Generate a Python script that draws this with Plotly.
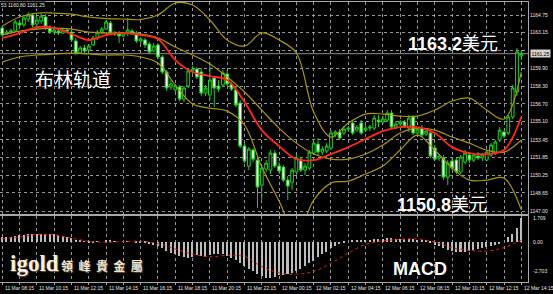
import plotly.graph_objects as go

# ---------------- data ----------------
time_labels = ["11 Mar 08:15", "11 Mar 10:15", "11 Mar 12:15", "11 Mar 14:15",
               "11 Mar 16:15", "11 Mar 18:15", "11 Mar 20:15", "11 Mar 22:15",
               "12 Mar 00:15", "12 Mar 02:15", "12 Mar 04:15", "12 Mar 06:15",
               "12 Mar 08:15", "12 Mar 10:15", "12 Mar 12:15", "12 Mar 14:15"]

price_ticks = ["1164.75", "1163.15", "1161.55", "1159.90", "1158.30", "1156.70",
               "1155.10", "1153.45", "1151.85", "1150.25", "1148.65", "1147.00"]
hidden_price_ticks = ["1161.55"]
macd_ticks = ["1.709", "0.00", "-2.703"]
last_price = 1161.25

opens = [1163.57, 1163.03, 1163.21, 1163.30, 1164.03, 1163.85, 1164.39, 1164.75, 1163.94, 1164.21,
         1164.57, 1163.66, 1163.21, 1163.30, 1163.12, 1163.39, 1163.21, 1162.40, 1161.31, 1161.76,
         1161.58, 1162.03, 1162.67, 1163.21, 1163.48, 1164.03, 1163.12, 1163.12, 1162.85, 1163.12,
         1163.30, 1163.12, 1162.40, 1162.49, 1162.12, 1161.49, 1162.03, 1160.95, 1159.59, 1158.23,
         1157.96, 1158.23, 1157.14, 1158.32, 1159.68, 1159.86, 1159.59, 1157.68, 1157.50, 1159.04,
         1158.32, 1158.41, 1159.41, 1158.50, 1157.96, 1156.78, 1152.88, 1151.07, 1152.52, 1151.61,
         1149.35, 1150.80, 1150.71, 1152.25, 1151.07, 1150.98, 1149.80, 1149.62, 1150.53, 1151.70,
         1150.71, 1150.89, 1152.25, 1153.06, 1152.34, 1152.43, 1152.70, 1153.97, 1154.15, 1154.06,
         1154.42, 1154.97, 1154.33, 1154.97, 1154.33, 1154.51, 1154.51, 1155.24, 1155.06, 1155.24,
         1155.87, 1154.60, 1154.88, 1155.06, 1154.51, 1155.51, 1154.06, 1154.51, 1153.97, 1154.06,
         1152.70, 1151.80, 1151.80, 1150.07, 1151.52, 1151.61, 1150.53, 1151.43, 1152.07, 1151.61,
         1151.98, 1151.80, 1151.61, 1152.07, 1152.25, 1153.43, 1154.15, 1154.06, 1155.51, 1157.78,
         1161.04]
highs = [1163.75, 1163.39, 1163.48, 1164.30, 1164.30, 1164.75, 1165.02, 1164.93, 1164.57, 1164.93,
         1164.84, 1163.85, 1163.57, 1163.57, 1163.57, 1163.57, 1163.39, 1162.67, 1161.94, 1162.03,
         1162.12, 1162.85, 1163.39, 1163.66, 1164.30, 1164.21, 1163.30, 1163.30, 1163.21, 1164.48,
         1163.48, 1163.30, 1162.76, 1162.67, 1162.30, 1162.21, 1162.21, 1161.13, 1159.77, 1158.86,
         1158.50, 1158.41, 1158.32, 1159.95, 1160.13, 1160.04, 1159.95, 1158.41, 1160.49, 1159.22,
         1158.86, 1159.77, 1159.77, 1158.68, 1158.32, 1157.05, 1153.15, 1152.79, 1152.70, 1151.89,
         1151.16, 1151.61, 1152.52, 1152.52, 1151.43, 1151.16, 1150.16, 1150.89, 1152.07, 1151.89,
         1151.34, 1152.52, 1153.43, 1153.61, 1152.88, 1153.15, 1154.33, 1154.33, 1154.42, 1154.69,
         1154.69, 1155.24, 1154.79, 1155.24, 1154.79, 1154.79, 1155.69, 1155.69, 1155.60, 1156.14,
         1156.14, 1155.15, 1155.24, 1155.24, 1155.69, 1155.69, 1154.60, 1154.79, 1154.51, 1154.33,
         1152.97, 1152.16, 1152.07, 1151.61, 1151.80, 1151.80, 1152.07, 1152.52, 1152.34, 1152.25,
         1152.34, 1152.25, 1152.52, 1153.15, 1153.43, 1154.60, 1154.33, 1155.69, 1158.41, 1161.76,
         1161.58]
lows = [1162.76, 1162.94, 1163.03, 1163.21, 1163.66, 1163.66, 1164.12, 1163.66, 1163.75, 1163.94,
        1163.39, 1163.03, 1163.03, 1162.94, 1163.03, 1163.12, 1162.30, 1161.13, 1161.22, 1161.31,
        1161.40, 1161.94, 1162.49, 1163.03, 1163.39, 1163.03, 1162.85, 1162.21, 1162.76, 1162.85,
        1162.94, 1162.21, 1162.12, 1161.76, 1161.22, 1161.40, 1160.76, 1159.41, 1157.87, 1157.96,
        1157.78, 1156.96, 1156.87, 1158.14, 1159.41, 1158.95, 1157.41, 1157.41, 1157.05, 1156.42,
        1157.78, 1158.23, 1158.32, 1157.87, 1156.42, 1152.70, 1151.34, 1150.71, 1151.43, 1147.27,
        1147.99, 1150.53, 1150.35, 1150.89, 1150.35, 1149.62, 1147.99, 1148.90, 1150.26, 1150.53,
        1150.26, 1150.71, 1152.07, 1152.07, 1152.07, 1152.25, 1152.52, 1153.70, 1153.43, 1153.88,
        1154.15, 1153.88, 1154.15, 1153.88, 1154.15, 1154.24, 1154.33, 1154.60, 1154.88, 1155.06,
        1154.51, 1154.42, 1154.69, 1154.51, 1154.15, 1153.88, 1153.97, 1153.70, 1153.79, 1151.80,
        1151.52, 1151.52, 1149.80, 1149.35, 1150.71, 1150.35, 1150.35, 1151.25, 1151.34, 1151.43,
        1151.61, 1151.52, 1151.52, 1151.89, 1152.07, 1153.25, 1153.61, 1153.88, 1155.33, 1157.41,
        1160.67]
closes = [1162.94, 1163.21, 1163.30, 1164.12, 1163.85, 1164.48, 1164.75, 1163.85, 1164.30, 1164.66,
          1163.66, 1163.21, 1163.39, 1163.12, 1163.39, 1163.30, 1162.49, 1161.31, 1161.76, 1161.49,
          1161.94, 1162.67, 1163.21, 1163.48, 1164.12, 1163.12, 1163.03, 1162.85, 1163.12, 1163.39,
          1163.12, 1162.40, 1162.58, 1162.03, 1161.40, 1161.94, 1160.95, 1159.59, 1158.14, 1158.50,
          1158.32, 1157.14, 1158.14, 1159.68, 1159.86, 1159.13, 1157.68, 1158.14, 1158.86, 1158.14,
          1158.05, 1159.50, 1158.50, 1158.05, 1156.60, 1152.88, 1151.52, 1152.61, 1151.70, 1149.17,
          1150.89, 1151.34, 1152.25, 1151.07, 1150.62, 1149.80, 1149.26, 1150.71, 1151.80, 1150.71,
          1151.07, 1152.34, 1153.15, 1152.34, 1152.61, 1152.88, 1154.06, 1154.15, 1153.61, 1154.42,
          1154.51, 1154.06, 1154.60, 1154.06, 1154.51, 1154.60, 1155.42, 1155.06, 1155.33, 1155.87,
          1154.60, 1154.88, 1155.06, 1154.69, 1155.42, 1154.06, 1154.42, 1153.88, 1154.24, 1151.98,
          1151.70, 1151.98, 1150.07, 1151.34, 1150.89, 1150.53, 1151.89, 1152.25, 1151.61, 1152.07,
          1151.80, 1152.07, 1152.34, 1152.97, 1153.25, 1154.33, 1153.79, 1155.51, 1158.14, 1161.40,
          1161.25]

# indicator readings, one every hour (every 4th bar)
band_upper = [1163.75, 1164.57, 1164.93, 1164.93, 1164.84, 1164.57, 1164.43, 1164.39, 1164.34, 1164.75,
              1165.84, 1165.66, 1164.30, 1162.49, 1161.94, 1163.12, 1162.49, 1161.31, 1155.96, 1153.70,
              1154.97, 1155.78, 1155.78, 1155.60, 1155.60, 1156.14, 1156.96, 1157.23, 1156.14, 1155.33,
              1159.59]
band_mid = [1162.94, 1163.30, 1163.48, 1163.57, 1163.48, 1163.21, 1163.12, 1163.12, 1163.03, 1162.67,
            1161.85, 1161.13, 1160.31, 1159.13, 1157.78, 1156.14, 1154.51, 1153.15, 1152.16, 1151.70,
            1151.70, 1152.16, 1152.97, 1154.06, 1154.51, 1154.33, 1153.70, 1153.15, 1152.52, 1152.34,
            1153.43]
band_lower = [1160.49, 1160.95, 1161.13, 1161.22, 1161.31, 1161.22, 1161.13, 1161.13, 1160.95, 1160.40,
              1158.41, 1156.69, 1156.32, 1156.05, 1154.79, 1150.98, 1147.90, 1144.82, 1147.99, 1149.53,
              1149.71, 1150.35, 1151.07, 1152.52, 1153.88, 1152.52, 1150.89, 1149.80, 1149.80, 1149.98,
              1147.08]
ma_red = [1162.67, 1163.12, 1163.66, 1163.57, 1163.03, 1162.49, 1162.94, 1163.12, 1162.94, 1162.58,
          1160.67, 1159.59, 1159.22, 1158.86, 1156.87, 1154.33, 1152.88, 1151.70, 1151.61, 1152.16,
          1152.79, 1153.52, 1154.24, 1154.60, 1154.60, 1154.06, 1152.79, 1152.25, 1152.16, 1152.52,
          1155.51]
macd_signal = [0.22, 0.33, 0.52, 0.50, 0.25, 0.02, -0.05, 0.00, 0.02, -0.15,
               -0.55, -0.92, -1.12, -1.02, -1.10, -1.85, -2.30, -2.40, -2.20, -1.60,
               -0.85, -0.20, 0.05, 0.15, 0.20, -0.05, -0.45, -0.65, -0.70, -0.45,
               0.10]
macd_hist = [0.30, 0.32, 0.35, 0.40, 0.45, 0.50, 0.55, 0.56, 0.56, 0.58,
             0.58, 0.55, 0.52, 0.48, 0.42, 0.35, 0.28, 0.15, 0.08, 0.02,
             -0.05, -0.05, -0.02, 0.00, 0.05, 0.05, 0.03, 0.00, 0.00, 0.02,
             0.00, -0.05, -0.08, -0.12, -0.18, -0.22, -0.35, -0.50, -0.70, -0.82,
             -0.88, -1.05, -1.15, -1.20, -1.10, -1.00, -1.05, -1.10, -1.00, -0.90,
             -0.88, -0.95, -1.05, -1.20, -1.35, -1.60, -1.80, -2.00, -2.20, -2.40,
             -2.55, -2.65, -2.70, -2.60, -2.45, -2.45, -2.40, -2.30, -2.15, -2.00,
             -1.80, -1.60, -1.40, -1.15, -0.95, -0.75, -0.50, -0.35, -0.20, -0.10,
             0.00, 0.05, 0.10, 0.12, 0.15, 0.15, 0.18, 0.20, 0.22, 0.25,
             0.25, 0.22, 0.20, 0.20, 0.22, 0.20, 0.15, 0.10, 0.05, -0.10,
             -0.22, -0.35, -0.50, -0.60, -0.68, -0.75, -0.77, -0.75, -0.70, -0.60,
             -0.55, -0.45, -0.40, -0.33, -0.25, -0.15, 0.00, 0.30, 0.55, 1.00,
             1.709]

bars = list(range(len(closes)))
hours = bars[::4]
label_pos = bars[::8]

# ---------------- styles ----------------
GREEN = "#1ed21e"
BAND = "#a89414"
GRID = "rgba(175,175,175,0.85)"
BORDER = "#a8a8a8"
TXT = "#e6e6e6"
SMALL = dict(family="Liberation Sans, Arial, sans-serif", size=5, color=TXT)

fig = go.Figure()

for band in (band_upper, band_mid, band_lower):
    fig.add_trace(go.Scatter(x=hours, y=band, mode="lines", line=dict(color=BAND, width=1.2, shape="spline"),
                             xaxis="x", yaxis="y", hoverinfo="skip"))
fig.add_trace(go.Candlestick(x=bars, open=opens, high=highs, low=lows, close=closes,
                             increasing=dict(line=dict(color=GREEN, width=1), fillcolor="black"),
                             decreasing=dict(line=dict(color=GREEN, width=1), fillcolor="white"),
                             whiskerwidth=0, xaxis="x", yaxis="y", hoverinfo="skip"))
fig.add_trace(go.Scatter(x=hours, y=ma_red, mode="lines", line=dict(color="#ff2a1a", width=1.8, shape="spline"),
                         xaxis="x", yaxis="y", hoverinfo="skip"))

fig.add_trace(go.Bar(x=bars, y=macd_hist, width=0.35, marker=dict(color="#bdbdbd", line=dict(width=0)),
                     xaxis="x2", yaxis="y2", hoverinfo="skip"))
fig.add_trace(go.Scatter(x=hours, y=macd_signal, mode="lines",
                         line=dict(color="#e0201a", width=1, dash="dot", shape="spline"),
                         xaxis="x2", yaxis="y2", hoverinfo="skip"))

xr = [-0.53, 121.55]
price_text = ["" if t in hidden_price_ticks else t for t in price_ticks]

fig.update_layout(
    width=553, height=294,
    paper_bgcolor="black", plot_bgcolor="black",
    margin=dict(l=0, r=25, t=0, b=0, autoexpand=False),
    showlegend=False,
    boxgap=0.2, boxgroupgap=0.2,
    xaxis=dict(domain=[0, 1], range=xr, anchor="y", tickvals=hours, showticklabels=False,
               showgrid=True, gridcolor=GRID, griddash="dot", gridwidth=1, zeroline=False,
               showline=True, mirror=True, linecolor=BORDER, linewidth=1, ticks="",
               rangeslider=dict(visible=False)),
    yaxis=dict(domain=[0.2721, 0.9932], range=[1146.73, 1165.93], side="right", anchor="x",
               tickvals=[float(t) for t in price_ticks], ticktext=price_text, tickfont=SMALL,
               showgrid=True, gridcolor=GRID, griddash="dot", gridwidth=1, zeroline=False,
               showline=True, mirror=True, linecolor=BORDER, linewidth=1, ticks=""),
    xaxis2=dict(domain=[0, 1], range=xr, anchor="y2", tickvals=hours, showticklabels=False,
                showgrid=True, gridcolor=GRID, griddash="dot", gridwidth=1, zeroline=False,
                showline=True, mirror=True, linecolor=BORDER, linewidth=1,
                ticks="outside", ticklen=2, tickcolor=BORDER),
    yaxis2=dict(domain=[0.0408, 0.2653], range=[-2.975, 1.878], side="right", anchor="x2",
                showticklabels=False, showgrid=False, zeroline=False,
                showline=True, mirror=True, linecolor=BORDER, linewidth=1, ticks=""),
    bargap=0,
)

ann = []
# time-axis labels (left aligned at their grid line, MT4 style)
for pos, lab in zip(label_pos, time_labels):
    ann.append(dict(x=pos, xref="x2", xanchor="left", xshift=0.5, y=1 - 288 / 294, yref="paper",
                    yanchor="middle", text=lab, showarrow=False, font=SMALL))
# MACD scale labels
shifts = [0, 0, 7]
for t, s in zip(macd_ticks, shifts):
    ann.append(dict(x=1, xref="paper", xanchor="left", xshift=3, y=float(t), yref="y2",
                    yanchor="middle", yshift=s, text=t, showarrow=False, font=SMALL))
# current price box
ann.append(dict(x=1, xref="paper", xanchor="left", xshift=2, y=last_price, yref="y", yanchor="middle",
                text=f"{last_price:.2f}", showarrow=False, bgcolor="#d4d4d4", borderpad=0.5,
                font=dict(family="Liberation Sans, Arial", size=5, color="black")))
# header
ann.append(dict(x=0, xref="paper", xanchor="left", y=0.998, yref="paper", yanchor="top",
                text="53 1160.80 1161.25", showarrow=False, font=SMALL, bgcolor="black", borderpad=0))


def caption(cx, cy, text, font):
    ann.append(dict(x=cx / 528, xref="paper", xanchor="center", y=1 - cy / 294, yref="paper",
                    yanchor="middle", text=text, showarrow=False, font=font))


caption(72.5, 78, "布林轨道", dict(family="Noto Sans CJK SC", size=19, color="white"))
caption(453, 43.5, "<b>1163.2</b>美元", dict(family="Liberation Sans, Noto Sans CJK SC", size=18, color="white"))
caption(442, 204.7, "<b>1150.8</b>美元", dict(family="Liberation Sans, Noto Sans CJK SC", size=18, color="white"))
caption(419.5, 268.5, "<b>MACD</b>", dict(family="Liberation Sans, Arial", size=18, color="white"))
caption(34, 263.5, "<b>igold</b>", dict(family="Liberation Serif, serif", size=23, color="#f6efe2",
                                        shadow="1px 1px 1px #7a5a36"))
caption(102, 265, "領\u00a0\u00a0峰\u00a0\u00a0貴\u00a0\u00a0金\u00a0\u00a0屬",
        dict(family="Noto Sans CJK TC", size=12, color="#efe6d4", weight="bold", shadow="1px 1px 1px #6a4a2a"))
fig.update_layout(annotations=ann)

fig.add_shape(type="line", xref="x domain", x0=0, x1=1, yref="y", y0=last_price, y1=last_price,
              line=dict(color="#8c8c8c", width=1), layer="below")

fig.write_html("out.html")
